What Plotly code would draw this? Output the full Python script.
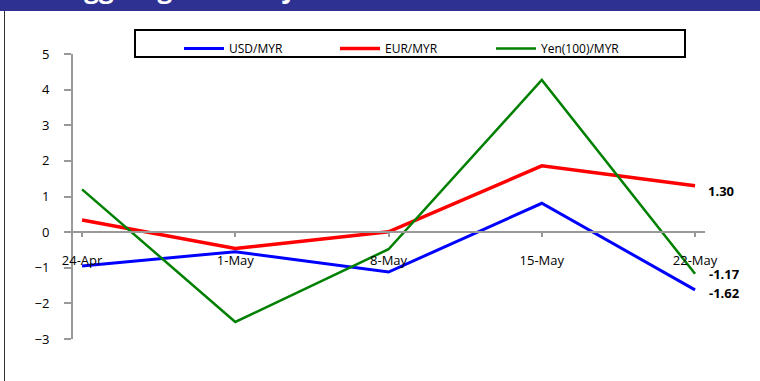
import plotly.graph_objects as go

categories = ["24-Apr", "1-May", "8-May", "15-May", "22-May"]
usd_myr = [-0.95, -0.55, -1.12, 0.81, -1.62]
eur_myr = [0.34, -0.46, 0.01, 1.86, 1.30]
yen_myr = [1.20, -2.52, -0.48, 4.27, -1.17]
series_names = ["USD/MYR", "EUR/MYR", "Yen(100)/MYR"]
end_labels = ["-1.62", "1.30", "-1.17"]
y_ticks = [-3, -2, -1, 0, 1, 2, 3, 4, 5]
title_text = "Ringgit Against Major Currencies"

W, H = 760, 381
L, R, T, B = 73, 705, 54, 339
FONT = "Open Sans"

def px_x(p):
    return (p - L) / (R - L)

def px_y(p):
    return (B - p) / (B - T)

colors = ["#0000FF", "#FF0000", "#008000"]
widths = [3, 3.5, 2.5]
values = [usd_myr, eur_myr, yen_myr]

fig = go.Figure()
for name, vals, c, w in zip(series_names, values, colors, widths):
    fig.add_trace(go.Scatter(x=list(range(len(categories))), y=vals, mode="lines",
                             name=name, line=dict(color=c, width=w)))

# end labels
label_shifts = [(12, -3), (11, -5), (12, 0)]
for vals, lab, (xs, ys) in zip(values, end_labels, label_shifts):
    fig.add_annotation(x=len(categories) - 1, y=vals[-1], text="<b>" + lab + "</b>",
                       showarrow=False, xanchor="left", yanchor="middle",
                       xshift=xs, yshift=ys, font=dict(family=FONT, size=13, color="#000000"))

shapes = [
    # banner
    dict(type="rect", xref="paper", yref="paper", x0=px_x(0), x1=px_x(W), y0=px_y(11), y1=px_y(-2),
         fillcolor="#2E3192", line=dict(width=0), layer="below"),
    # left border
    dict(type="line", xref="paper", yref="paper", x0=px_x(4.5), x1=px_x(4.5), y0=px_y(11), y1=px_y(H + 2),
         line=dict(color="#333333", width=1)),
    # legend box
    dict(type="rect", xref="paper", yref="paper", x0=px_x(135), x1=px_x(685), y0=px_y(57), y1=px_y(30),
         line=dict(color="#000000", width=2), fillcolor="rgba(0,0,0,0)"),
]

fig.add_annotation(xref="paper", yref="paper", x=px_x(40), y=px_y(8), text="<b>" + title_text + "</b>",
                   showarrow=False, xanchor="left", yanchor="bottom",
                   font=dict(family=FONT, size=26, color="#FFFFFF"))

fig.update_layout(
    width=W, height=H,
    margin=dict(l=L, r=W - R, t=T, b=H - B),
    paper_bgcolor="white", plot_bgcolor="white",
    shapes=shapes,
    showlegend=True,
    legend=dict(orientation="h", x=px_x(179), y=px_y(34), xanchor="left", yanchor="top",
                entrywidth=101, entrywidthmode="pixels",
                font=dict(family=FONT, size=12, color="#000000"),
                bgcolor="rgba(0,0,0,0)", borderwidth=0, itemwidth=40),
    xaxis=dict(range=[-0.059, 4.065], tickmode="array", tickvals=list(range(len(categories))),
               ticktext=categories, showgrid=False, zeroline=False,
               showline=True, linecolor="#999999", linewidth=2,
               ticks="outside", ticklen=4, tickwidth=2, tickcolor="#999999",
               anchor="free", position=0.375, ticklabelstandoff=12,
               tickfont=dict(family=FONT, size=13, color="#000000")),
    yaxis=dict(range=[-3, 5], tickvals=y_ticks, showgrid=False, zeroline=False,
               showline=True, linecolor="#999999", linewidth=2,
               ticks="outside", ticklen=7, tickwidth=2, tickcolor="#999999",
               ticklabelstandoff=12,
               tickfont=dict(family=FONT, size=13, color="#000000")),
)

fig.write_html("out.html")
